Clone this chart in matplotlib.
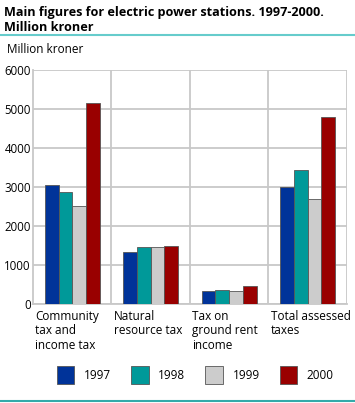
import matplotlib
matplotlib.use("Agg")
import matplotlib.pyplot as plt
import numpy as np

# data
categories = ["Community\ntax and\nincome tax", "Natural\nresource tax",
              "Tax on\nground rent\nincome", "Total assessed\ntaxes"]
years = ["1997", "1998", "1999", "2000"]
v1997 = [3040, 1325, 325, 2990]
v1998 = [2860, 1460, 360, 3430]
v1999 = [2500, 1460, 325, 2685]
v2000 = [5160, 1480, 455, 4800]
series = [v1997, v1998, v1999, v2000]
colors = ["#003399", "#009999", "#cccccc", "#990000"]

plt.rcParams['font.family'] = ['Open Sans', 'DejaVu Sans']

fig = plt.figure(figsize=(3.55, 4.03), dpi=100)
ax = fig.add_axes([0.093, 0.2457, 0.884, 0.5806])

x = np.arange(len(categories))
w = 0.175
for i, (vals, c) in enumerate(zip(series, colors)):
    ax.bar(x + (i - 1.5) * w, vals, w, color=c, edgecolor="#555555",
           linewidth=0.6, label=years[i], zorder=3)

ax.set_xlim(-0.5, 3.5)
ax.set_ylim(0, 6000)
ax.set_yticks(range(0, 6001, 1000))
ax.tick_params(axis='y', length=0, labelsize=8.3, pad=1.5)
ax.set_xticks([])
for xb in [0.5, 1.5, 2.5, 3.5]:
    ax.axvline(xb, color="#c8c8c8", lw=1.3, zorder=1)
ax.yaxis.grid(True, color="#c8c8c8", lw=1.3, zorder=1)
for s in ["top", "right"]:
    ax.spines[s].set_visible(False)
ax.spines["left"].set_color("#c8c8c8")
ax.spines["left"].set_linewidth(1.3)
ax.spines["bottom"].set_color("#c8c8c8")
ax.spines["bottom"].set_linewidth(1.3)

for i, lab in enumerate(categories):
    ax.text(i - 0.47, -150, lab, ha="left", va="top", fontsize=8.5,
            linespacing=1.15)

fig.text(0.01, 0.985, "Main figures for electric power stations. 1997-2000.\nMillion kroner",
         ha="left", va="top", fontsize=9.1, fontweight="bold", linespacing=1.2)
fig.add_artist(plt.Line2D([0, 1], [0.913, 0.913], color="#66cccc", lw=1.5))
fig.text(0.02, 0.878, "Million kroner", ha="left", va="center", fontsize=8.5)
fig.add_artist(plt.Line2D([0, 1], [0.006, 0.006], color="#33aaaa", lw=1.5))

leg = fig.legend(loc="center", bbox_to_anchor=(0.55, 0.07), ncol=4, frameon=False,
                 fontsize=8.5, handlelength=1.5, handleheight=2.0,
                 columnspacing=1.7, handletextpad=0.8)

fig.savefig("out.png", dpi=100)
